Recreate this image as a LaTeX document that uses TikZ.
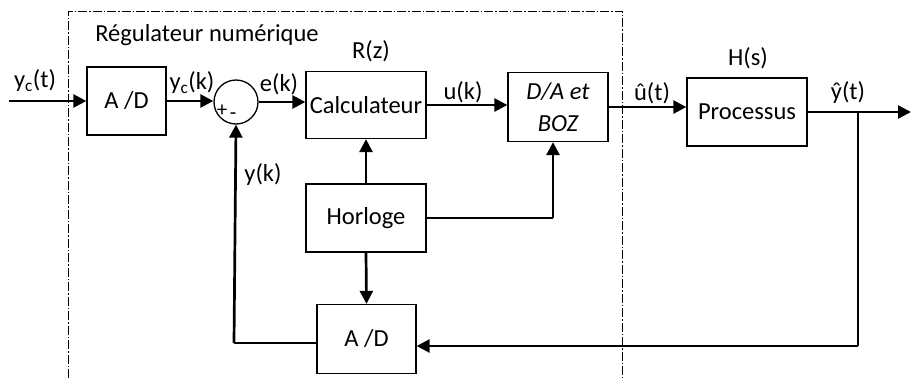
\documentclass[tikz,border=0pt]{standalone}
\usepackage{fontspec}
\setmainfont{Carlito}
\usetikzlibrary{arrows.meta}
\begin{document}
\begin{tikzpicture}[x=1pt,y=-1pt,
  font=\fontsize{24.5}{28}\selectfont,
  blk/.style={draw, line width=1.3pt, rectangle, inner sep=0pt},
  sig/.style={line width=2.7pt, -{Triangle[length=13pt,width=13pt]}},
  sigplain/.style={line width=2.7pt},
  thin/.style={line width=1.5pt},
  lbl/.style={inner sep=0pt},
  frame/.style={line width=1pt, dash pattern=on 9pt off 2pt on 1.5pt off 2pt}]
\useasboundingbox (0,0) rectangle (911,378);

% digital controller frame (open at the bottom)
\draw[frame] (68,378) -- (68,11) -- (622,11) -- (622,378);
\node[lbl] (title) at (207,35) {Régulateur numérique};

% blocks
\node[blk, minimum width=79pt, minimum height=68pt] (ad1) at (126.5,101) {A /D};
\node[draw, circle, line width=1.3pt, minimum size=44pt, inner sep=0pt] (sum) at (236,102) {};
\node[blk, minimum width=120pt, minimum height=67pt] (calc) at (366,105) {Calculateur};
\node[blk, minimum width=100pt, minimum height=69pt, align=center, font=\fontsize{24.5}{32}\selectfont\itshape] (da) at (558,107) {D/A et\\BOZ};
\node[blk, minimum width=120pt, minimum height=68pt] (proc) at (747,112) {Processus};
\node[blk, minimum width=120pt, minimum height=68pt] (clk) at (366,218) {Horloge};
\node[blk, minimum width=99pt, minimum height=69pt] (ad2) at (366.5,339) {A /D};

% signs of the summing junction
\node[lbl, font=\fontsize{21}{21}\selectfont] (plus) at (222,110.5) {+};
\node[lbl, font=\fontsize{21}{21}\selectfont] (minus) at (233,116) {-};

% labels
\node[lbl] (ycT) at (35,81) {y\textsubscript{c}(t)};
\node[lbl] (ycK) at (192,83) {y\textsubscript{c}(k)};
\node[lbl] (eK) at (279,84) {e(k)};
\node[lbl] (Rz) at (371,51) {R(z)};
\node[lbl] (uK) at (463,92) {u(k)};
\node[lbl] (uhat) at (652,93) {û(t)};
\node[lbl] (Hs) at (748,58) {H(s)};
\node[lbl] (yhat) at (848,93) {ŷ(t)};
\node[lbl] (yK) at (263,175) {y(k)};

% coordinates
\coordinate (in) at (9,101);
\coordinate (out) at (911,112);
\coordinate (tap) at (858,112);
\coordinate (fb) at (858,346);
\coordinate (clkj) at (553,218);
\coordinate (yk) at (234,343);

% forward path
\draw[sig] (in) -- (ad1.west);
\draw[sig] (ad1.east) -- (ad1.east -| sum.west);
\draw[sig] (sum.east) -- (sum.east -| calc.west);
\draw[sig] (calc.east) -- (calc.east -| da.west);
\draw[sig] (da.east) -- (da.east -| proc.west);
\draw[sig] (proc.east) -- (out);

% feedback path
\draw[sigplain] (tap) -- (fb);
\draw[sig] (fb) -- (fb -| ad2.east);
\draw[thin] (yk -| ad2.west) -- (yk);
\draw[sig] (yk) -- (sum.south);

% clock signals
\draw[sig] (clk.north) -- (calc.south);
\draw[sig] (clk.south) -- (ad2.north);
\draw[thin] (clk.east) -- (clkj);
\draw[sig] (clkj) -- (clkj |- da.south);
\end{tikzpicture}
\end{document}
